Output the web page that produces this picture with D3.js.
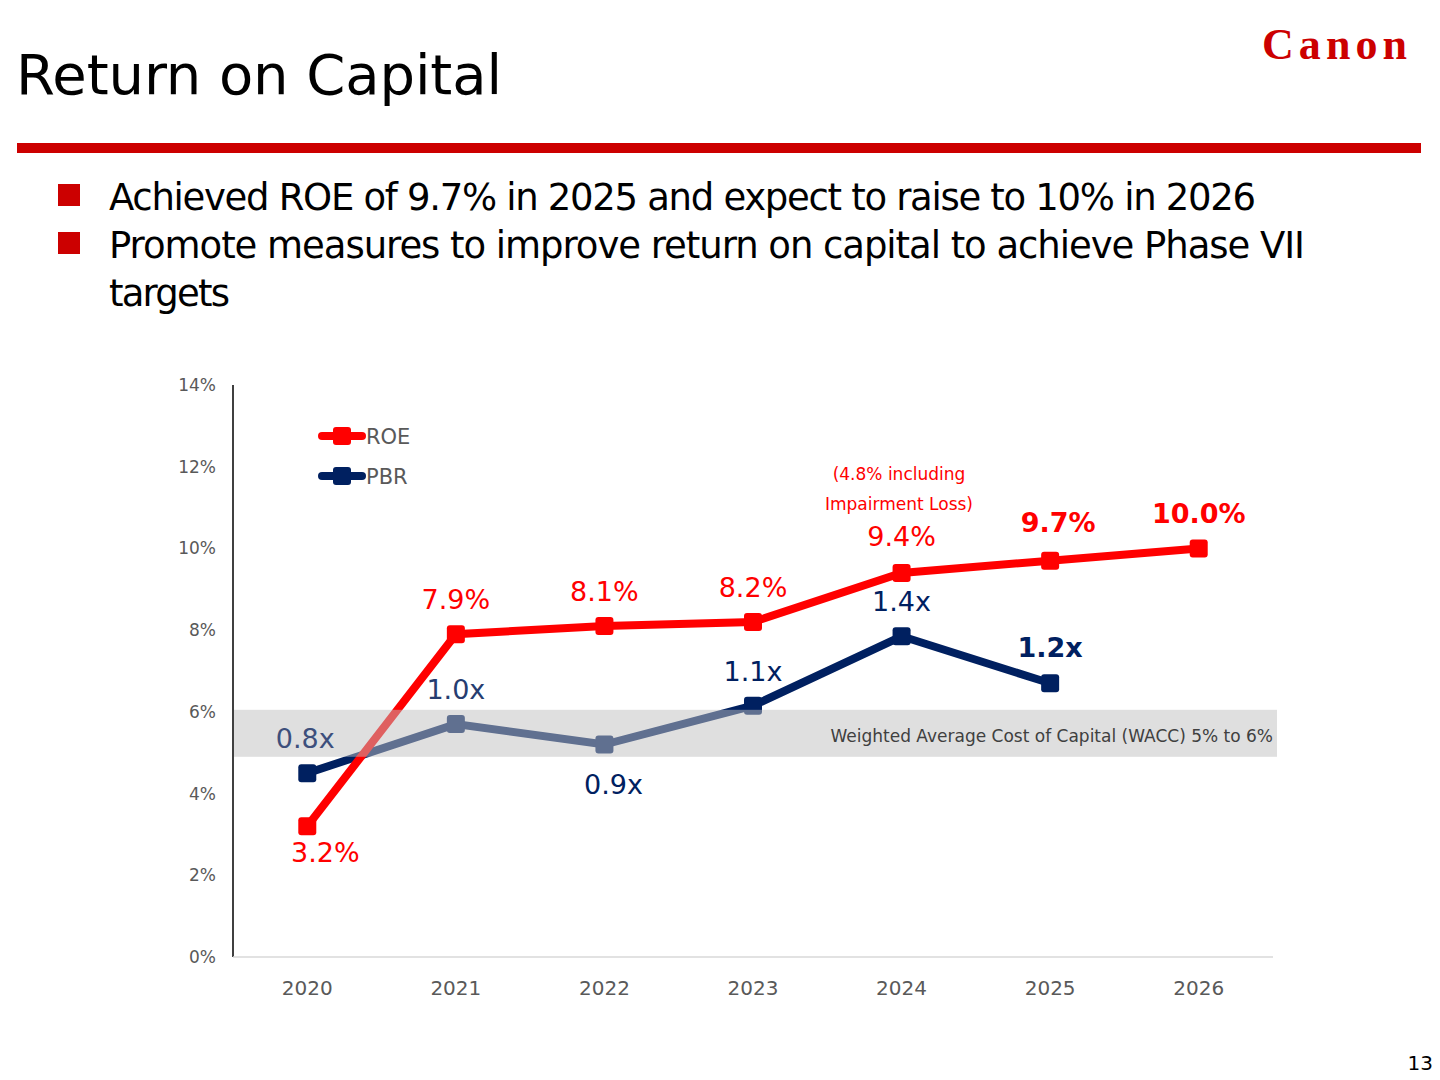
<!DOCTYPE html>
<html><head><meta charset="utf-8">
<script src="https://cdn.jsdelivr.net/npm/d3@7"></script>
<style>body{margin:0;background:#fff}svg{display:block}</style>
</head><body>
<svg id="chart" width="1440" height="1080"></svg>
<script>
// Chart data
const years = ["2020", "2021", "2022", "2023", "2024", "2025", "2026"];
const roe = [3.2, 7.9, 8.1, 8.2, 9.4, 9.7, 10.0];
const pbrPos = [4.5, 5.7, 5.2, 6.15, 7.85, 6.7]; // plotted on % axis
const roeLabels = ["3.2%", "7.9%", "8.1%", "8.2%", "9.4%", "9.7%", "10.0%"];
const pbrLabels = ["0.8x", "1.0x", "0.9x", "1.1x", "1.4x", "1.2x"];
const yTicks = [0, 2, 4, 6, 8, 10, 12, 14];
const wacc = [4.9, 6.05];

const svg = d3.select("#chart");
const font = "DejaVu Sans, Verdana, sans-serif";
const red = "#ff0000", navy = "#002060";

// Header
svg.append("text").attr("x", 16).attr("y", 94).attr("font-family", font).attr("font-size", 56)
  .attr("textLength", 486).text("Return on Capital");
svg.append("text").attr("x", 1262).attr("y", 59).attr("font-family", "Liberation Serif, serif")
  .attr("font-weight", "bold").attr("font-size", 44).attr("fill", "#cc0000").attr("textLength", 145)
  .text("Canon");
svg.append("rect").attr("x", 17).attr("y", 143).attr("width", 1404).attr("height", 10).attr("fill", "#cc0000");

const bullets = [
  [210, "Achieved ROE of 9.7% in 2025 and expect to raise to 10% in 2026", 1147, true],
  [258, "Promote measures to improve return on capital to achieve Phase VII", 1196, true],
  [306, "targets", 121, false]
];
bullets.forEach(([y, t, w, sq]) => {
  if (sq) svg.append("rect").attr("x", 58).attr("y", y - 26).attr("width", 22).attr("height", 22).attr("fill", "#cc0000");
  svg.append("text").attr("x", 109).attr("y", y).attr("font-family", font).attr("font-size", 37)
    .attr("textLength", w).text(t);
});

// Scales
const x = d3.scaleBand().domain(years).range([233, 1273]);
const cx = d => x(d) + x.bandwidth() / 2;
const y = d3.scaleLinear().domain([0, 14]).range([957, 385]);

// Axes
svg.append("line").attr("x1", 233).attr("x2", 233).attr("y1", 385).attr("y2", 957).attr("stroke", "#000").attr("stroke-width", 1.5);
svg.append("line").attr("x1", 233).attr("x2", 1273).attr("y1", 957).attr("y2", 957).attr("stroke", "#d9d9d9").attr("stroke-width", 1.5);
svg.selectAll(".yt").data(yTicks).join("text").attr("x", 216).attr("y", d => y(d) + 6)
  .attr("text-anchor", "end").attr("font-family", font).attr("font-size", 17).attr("fill", "#595959")
  .text(d => d + "%");
svg.selectAll(".xt").data(years).join("text").attr("x", d => cx(d)).attr("y", 995)
  .attr("text-anchor", "middle").attr("font-family", font).attr("font-size", 20).attr("fill", "#595959")
  .text(d => d);

// Lines
const line = d3.line().x(d => cx(d[0])).y(d => y(d[1]));
function series(vals, color) {
  const pts = vals.map((v, i) => [years[i], v]);
  svg.append("path").datum(pts).attr("d", line).attr("fill", "none").attr("stroke", color).attr("stroke-width", 8);
  svg.selectAll(null).data(pts).join("rect").attr("x", d => cx(d[0]) - 9).attr("y", d => y(d[1]) - 9)
    .attr("width", 18).attr("height", 18).attr("rx", 3).attr("fill", color);
}
series(pbrPos, navy);
series(roe, red);

// WACC band, semi-transparent over lines
svg.append("rect").attr("x", 234).attr("y", y(wacc[1])).attr("width", 1043).attr("height", y(wacc[0]) - y(wacc[1]))
  .attr("fill", "#c0c0c0").attr("opacity", 0.5);
svg.append("text").attr("x", 1273).attr("y", 742).attr("text-anchor", "end").attr("font-family", font)
  .attr("font-size", 17).attr("fill", "#404040").text("Weighted Average Cost of Capital (WACC)  5% to 6%");

// Data labels
const roeOff = [[18, 36], [0, -25], [0, -25], [0, -25], [0, -27], [8, -29], [0, -25]];
roeLabels.forEach((t, i) => {
  svg.append("text").attr("x", cx(years[i]) + roeOff[i][0]).attr("y", y(roe[i]) + roeOff[i][1])
    .attr("text-anchor", "middle").attr("font-family", font).attr("font-size", 27).attr("fill", red)
    .attr("font-weight", i >= 5 ? "bold" : "normal").text(t);
});
const pbrOff = [[-2, -25], [0, -25], [9, 49], [0, -25], [0, -25], [0, -26]];
const pbrCol = ["#3d4f7c", "#263d70", navy, navy, navy, navy];
pbrLabels.forEach((t, i) => {
  svg.append("text").attr("x", cx(years[i]) + pbrOff[i][0]).attr("y", pbrPos[i] ? y(pbrPos[i]) + pbrOff[i][1] : 0)
    .attr("text-anchor", "middle").attr("font-family", font).attr("font-size", 27).attr("fill", pbrCol[i])
    .attr("font-weight", i === 5 ? "bold" : "normal").text(t);
});
svg.append("text").attr("x", 899).attr("y", 480).attr("text-anchor", "middle").attr("font-family", font)
  .attr("font-size", 17).attr("fill", red).text("(4.8%  including");
svg.append("text").attr("x", 899).attr("y", 510).attr("text-anchor", "middle").attr("font-family", font)
  .attr("font-size", 17).attr("fill", red).text("Impairment Loss)");

// Legend
[["ROE", red, 436], ["PBR", navy, 476]].forEach(([t, c, ly]) => {
  svg.append("line").attr("x1", 322).attr("x2", 362).attr("y1", ly).attr("y2", ly).attr("stroke", c).attr("stroke-width", 8).attr("stroke-linecap", "round");
  svg.append("rect").attr("x", 333).attr("y", ly - 9).attr("width", 18).attr("height", 18).attr("rx", 3).attr("fill", c);
  svg.append("text").attr("x", 366).attr("y", ly + 8).attr("font-family", font).attr("font-size", 21).attr("fill", "#595959").text(t);
});

svg.append("text").attr("x", 1433).attr("y", 1070).attr("text-anchor", "end").attr("font-family", font).attr("font-size", 20).text("13");
</script>
</body></html>
